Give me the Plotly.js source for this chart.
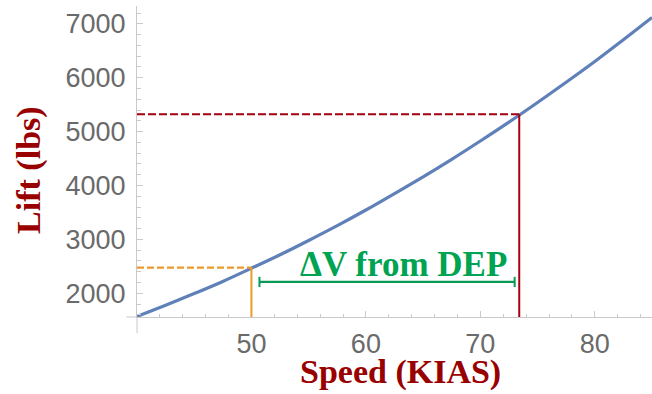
<!DOCTYPE html>
<html>
<head>
<meta charset="utf-8">
<script src="https://cdn.plot.ly/plotly-3.0.1.min.js"></script>
<style>html,body{margin:0;padding:0;background:#fff}#chart{width:652px;height:394px}</style>
</head>
<body>
<div id="chart"></div>
<script>
// Lift curve
const speedKias = [40, 42.5, 45, 47.5, 50, 52.5, 55, 57.5, 60, 62.5, 65, 67.5, 70, 72.5, 75, 77.5, 80, 82.5, 85];
const liftLbs   = [1570, 1780, 1995, 2220, 2465, 2715, 2980, 3255, 3545, 3850, 4160, 4485, 4825, 5175, 5540, 5915, 6300, 6705, 7115];

// Reference points: conventional (orange) and DEP (red)
const baseSpeed = 50.0, baseLift = 2475;
const depSpeed = 73.4, depLift = 5320;
// Delta-V bracket
const deltaStart = 50.7, deltaEnd = 73.0, deltaLevel = 2210;
const deltaLabel = "ΔV from DEP";

const xTickVals = [50, 60, 70, 80];
const yTickVals = [2000, 3000, 4000, 5000, 6000, 7000];
const xRange = [40, 85];
const yRange = [1560, 7330];

const orange = '#ec9a2c', red = '#a30010', green = '#0a9a55', axisGray = '#c9c9c9';

const traces = [{
  x: speedKias, y: liftLbs, type: 'scatter', mode: 'lines',
  line: {color: '#5f80b8', width: 3.2, shape: 'spline'}, hoverinfo: 'skip', showlegend: false
}];

const capH = 95;
const shapes = [
  {type:'line', xref:'x', yref:'y', x0:xRange[0], x1:baseSpeed, y0:baseLift, y1:baseLift, line:{color:orange, width:2.2, dash:'7px,3px'}},
  {type:'line', xref:'x', yref:'y', x0:baseSpeed, x1:baseSpeed, y0:yRange[0], y1:baseLift, line:{color:orange, width:2}},
  {type:'line', xref:'x', yref:'y', x0:xRange[0], x1:depSpeed, y0:depLift, y1:depLift, line:{color:red, width:2, dash:'8px,3px'}},
  {type:'line', xref:'x', yref:'y', x0:depSpeed, x1:depSpeed, y0:yRange[0], y1:depLift, line:{color:red, width:2}},
  {type:'line', xref:'x', yref:'y', x0:deltaStart, x1:deltaEnd, y0:deltaLevel, y1:deltaLevel, line:{color:green, width:2.2}},
  {type:'line', xref:'x', yref:'y', x0:deltaStart, x1:deltaStart, y0:deltaLevel-capH, y1:deltaLevel+capH, line:{color:green, width:2}},
  {type:'line', xref:'x', yref:'y', x0:deltaEnd, x1:deltaEnd, y0:deltaLevel-capH, y1:deltaLevel+capH, line:{color:green, width:2}},
  // axis extensions (Mathematica style)
  {type:'line', xref:'paper', yref:'paper', x0:0, x1:0, y0:0, y1:-0.052, line:{color:axisGray, width:1}},
  {type:'line', xref:'paper', yref:'paper', x0:0, x1:-0.021, y0:0, y1:0, line:{color:axisGray, width:1}}
];

const tickFont = {family:'Liberation Sans, Arial, sans-serif', size:27, color:'#6a6a6a'};
const titleFont = {family:'Liberation Serif, Times New Roman, serif', size:34, color:'#990000', weight:'bold'};

const layout = {
  width:652, height:394,
  margin:{l:137, r:0, t:6, b:77},
  paper_bgcolor:'#fff', plot_bgcolor:'#fff',
  showlegend:false,
  xaxis:{range:xRange, tickvals:xTickVals, ticks:'inside', ticklen:6, tickcolor:axisGray, tickwidth:1,
         showline:true, linecolor:axisGray, linewidth:1, showgrid:false, zeroline:false, tickfont:tickFont,
         ticklabelstandoff:3,
         minor:{dtick:2, tick0:40, ticks:'inside', ticklen:3.5, tickcolor:axisGray, showgrid:false}},
  yaxis:{range:yRange, tickvals:yTickVals, ticks:'inside', ticklen:6, tickcolor:axisGray, tickwidth:1,
         showline:true, linecolor:axisGray, linewidth:1, showgrid:false, zeroline:false, tickfont:tickFont,
         ticklabelstandoff:5,
         minor:{dtick:200, tick0:0, ticks:'inside', ticklen:3.5, tickcolor:axisGray, showgrid:false}},
  shapes: shapes,
  annotations:[
    {text:'Lift (lbs)', xref:'paper', yref:'paper', x:-0.2097, y:0.473, xanchor:'center', yanchor:'middle',
     textangle:-90, showarrow:false, font:titleFont},
    {text:'Speed (KIAS)', xref:'paper', yref:'paper', x:0.5126, y:-0.176, xanchor:'center', yanchor:'middle',
     showarrow:false, font:titleFont},
    {text:deltaLabel, xref:'x', yref:'y', x:63.3, y:2543, xanchor:'center', yanchor:'middle', showarrow:false,
     font:{family:'Liberation Serif, Times New Roman, serif', size:35, color:'#00a352', weight:'bold'}}
  ]
};

Plotly.newPlot('chart', traces, layout, {staticPlot:true, displayModeBar:false});
</script>
</body>
</html>
